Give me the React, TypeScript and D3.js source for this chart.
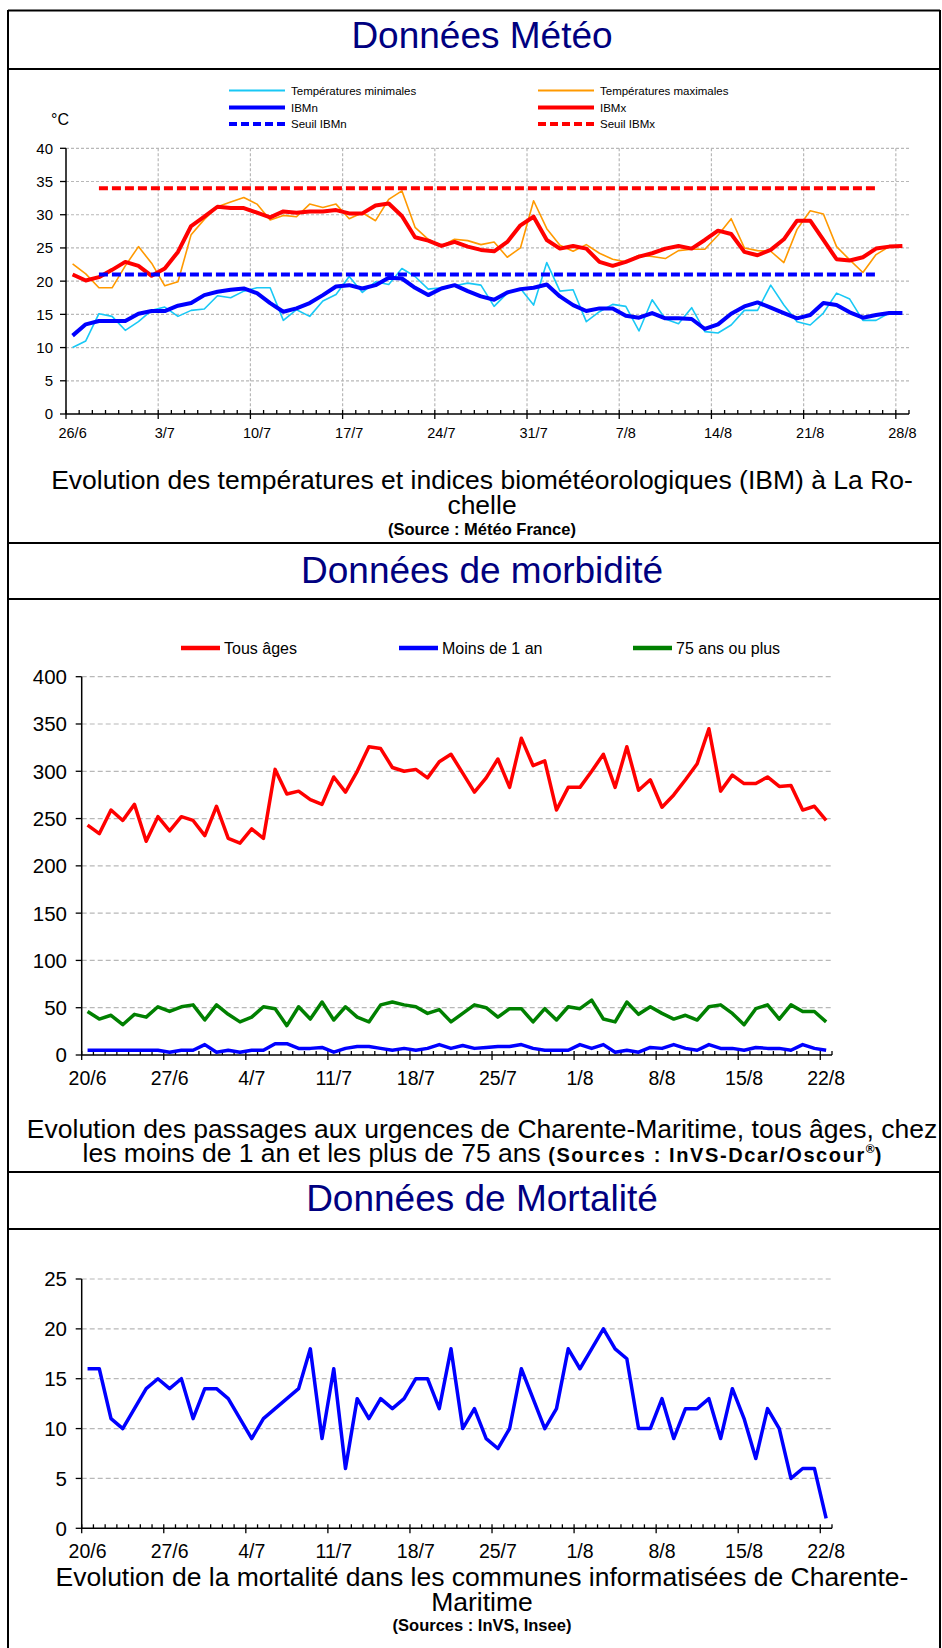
import * as d3 from "d3";

const FONT = "'Liberation Sans', Arial, Helvetica, sans-serif";
const NAVY = "#000080";
const GRID = "#b8b8b8";

// categories (one per day) and the labelled days
const fmtDay = d3.timeFormat("%-d/%-m");
const meteoDays = d3.timeDay.range(new Date(2006, 5, 26), new Date(2006, 7, 29)).map(fmtDay);
const santeDays = d3.timeDay.range(new Date(2006, 5, 20), new Date(2006, 7, 23)).map(fmtDay);
const meteoTicks = ["26/6", "3/7", "10/7", "17/7", "24/7", "31/7", "7/8", "14/8", "21/8", "28/8"];
const santeTicks = ["20/6", "27/6", "4/7", "11/7", "18/7", "25/7", "1/8", "8/8", "15/8", "22/8"];

// Données Météo (°C)
const tMin = [
  10.0, 11.0, 15.1, 14.7, 12.6, 13.9, 15.6, 16.1, 14.7, 15.6,
  15.8, 17.8, 17.5, 18.5, 19.0, 19.0, 14.1, 15.7, 14.7, 17.0,
  18.0, 20.7, 18.3, 19.9, 19.5, 21.9, 20.7, 18.8, 19.0, 19.3,
  19.7, 19.4, 16.2, 18.2, 18.9, 16.4, 22.8, 18.5, 18.7, 13.9,
  15.4, 16.5, 16.2, 12.5, 17.2, 14.3, 13.6, 16.0, 12.4, 12.2,
  13.4, 15.6, 15.6, 19.4, 16.4, 13.9, 13.4, 15.2, 18.2, 17.3,
  14.1, 14.1, 15.2,
];
const tMax = [
  22.6, 21.1, 19.0, 19.0, 22.3, 25.2, 22.7, 19.3, 19.9, 27.0,
  29.3, 31.2, 31.9, 32.6, 31.6, 29.2, 29.9, 29.7, 31.6, 31.1,
  31.6, 29.4, 30.3, 29.1, 32.3, 33.6, 28.1, 26.3, 25.3, 26.3,
  26.1, 25.5, 25.9, 23.6, 25.0, 32.1, 27.9, 25.4, 24.5, 25.5,
  24.2, 23.3, 22.9, 23.9, 23.7, 23.4, 24.6, 24.8, 24.8, 26.9,
  29.4, 25.0, 24.6, 24.5, 22.8, 27.8, 30.6, 30.1, 25.2, 23.2,
  21.3, 24.0, 25.2,
];
const ibmn = [
  11.8, 13.5, 14.0, 14.0, 14.0, 15.1, 15.5, 15.5, 16.3, 16.7,
  17.9, 18.4, 18.7, 18.9, 18.2, 16.7, 15.4, 15.9, 16.7, 17.9,
  19.2, 19.4, 18.9, 19.4, 20.5, 20.4, 19.0, 17.9, 18.9, 19.4,
  18.5, 17.7, 17.2, 18.3, 18.8, 19.0, 19.5, 17.7, 16.4, 15.5,
  15.9, 15.9, 14.8, 14.5, 15.2, 14.4, 14.4, 14.3, 12.8, 13.5,
  15.1, 16.2, 16.8, 16.0, 15.2, 14.4, 14.9, 16.7, 16.4, 15.3,
  14.5, 14.9, 15.2, 15.2,
];
const ibmx = [
  21.0, 20.1, 20.6, 21.7, 22.9, 22.3, 20.8, 21.9, 24.4, 28.3,
  29.7, 31.2, 31.0, 31.0, 30.3, 29.6, 30.5, 30.3, 30.5, 30.5,
  30.7, 30.2, 30.2, 31.4, 31.7, 29.8, 26.6, 26.1, 25.3, 25.9,
  25.2, 24.7, 24.5, 25.9, 28.4, 29.7, 26.2, 24.9, 25.3, 24.9,
  22.9, 22.3, 22.9, 23.7, 24.2, 24.9, 25.3, 24.9, 26.2, 27.6,
  27.1, 24.4, 23.9, 24.7, 26.3, 29.1, 29.1, 26.2, 23.3, 23.1,
  23.6, 24.9, 25.2, 25.3,
];
const seuilIBMn = 21;
const seuilIBMx = 34;
const seuilDays = ["28/6", "26/8"];

// Données de morbidité (passages aux urgences)
const tousAges = [
  243, 234, 259, 248, 265, 226, 252, 237, 252, 248,
  232, 263, 229, 224, 239, 229, 302, 276, 279, 270,
  265, 294, 278, 300, 326, 324, 304, 300, 302, 293,
  310, 318, 298, 278, 293, 313, 283, 335, 306, 311,
  259, 283, 283, 300, 318, 283, 326, 280, 291, 262,
  275, 291, 308, 345, 279, 296, 287, 287, 294, 284,
  285, 259, 263, 248,
];
const moinsUnAn = [
  5, 5, 5, 5, 5, 5, 5, 3, 5, 5,
  11, 3, 5, 3, 5, 5, 12, 12, 7, 7,
  8, 3, 7, 9, 9, 7, 5, 7, 5, 7,
  11, 7, 10, 7, 8, 9, 9, 11, 7, 5,
  5, 5, 11, 7, 11, 3, 5, 3, 8, 7,
  11, 7, 5, 11, 7, 7, 5, 8, 7, 7,
  5, 11, 7, 5,
];
const plus75 = [
  46, 38, 42, 32, 43, 40, 51, 46, 51, 53,
  37, 53, 43, 35, 40, 51, 49, 31, 51, 38,
  56, 37, 51, 40, 35, 53, 56, 53, 51, 44,
  48, 35, 44, 53, 50, 40, 49, 49, 35, 49,
  37, 51, 49, 58, 38, 35, 56, 43, 51, 44,
  38, 42, 37, 51, 53, 44, 32, 49, 53, 38,
  53, 46, 46, 35,
];

// Données de mortalité
const deces = [
  16, 16, 11, 10, 12, 14, 15, 14, 15, 11,
  14, 14, 13, 11, 9, 11, 12, 13, 14, 18,
  9, 16, 6, 13, 11, 13, 12, 13, 15, 15,
  12, 18, 10, 12, 9, 8, 10, 16, 13, 10,
  12, 18, 16, 18, 20, 18, 17, 10, 10, 13,
  9, 12, 12, 13, 9, 14, 11, 7, 12, 10,
  5, 6, 6, 1,
];

interface Serie {
  values: number[];
  color: string;
  width: number;
}
interface Seuil {
  value: number;
  color: string;
}

interface ChartProps {
  days: string[];
  ticks: string[];
  left: number;
  right: number;
  top: number;
  bottom: number;
  yMax: number;
  yStep: number;
  yFont: number;
  xFont: number;
  yLabelRight: number;
  xLabelBaseline: number;
  yTickLen: number;
  vGrid: boolean;
  dash: string;
  series: Serie[];
  seuils?: Seuil[];
}

function DayChart(p: ChartProps) {
  const x = d3.scaleBand<string>().domain(p.days).range([p.left, p.right]);
  const y = d3.scaleLinear().domain([0, p.yMax]).range([p.bottom, p.top]);
  const bw = x.bandwidth();
  const cx = (d: string) => (x(d) as number) + bw / 2;
  const yTicks = d3.range(0, p.yMax + p.yStep / 2, p.yStep);
  const line = d3
    .line<number>()
    .x((_, i) => cx(p.days[i]))
    .y((v) => y(v));
  const bounds = p.days.map((d, i) => ({ x: x(d) as number, major: i % 7 === 0 }));
  bounds.push({ x: p.right, major: false });

  return (
    <g fontFamily={FONT}>
      {yTicks
        .filter((v) => v > 0)
        .map((v) => (
          <line key={"h" + v} x1={p.left} x2={p.right} y1={y(v)} y2={y(v)}
            stroke={GRID} strokeWidth={1.2} strokeDasharray={p.dash} />
        ))}
      {p.vGrid &&
        p.ticks.slice(1).map((t) => (
          <line key={"v" + t} x1={x(t)} x2={x(t)} y1={p.top} y2={p.bottom}
            stroke={GRID} strokeWidth={1.2} strokeDasharray={p.dash} />
        ))}
      {/* y axis */}
      <line x1={p.left} x2={p.left} y1={p.top} y2={p.bottom} stroke="#000" strokeWidth={1.5} />
      {yTicks.map((v) => (
        <g key={"yt" + v}>
          <line x1={p.left - p.yTickLen} x2={p.left} y1={y(v)} y2={y(v)} stroke="#000" strokeWidth={1.3} />
          <text x={p.yLabelRight} y={y(v)} dy="0.36em" textAnchor="end" fontSize={p.yFont}>
            {v}
          </text>
        </g>
      ))}
      {/* x axis */}
      <line x1={p.left} x2={p.right} y1={p.bottom} y2={p.bottom} stroke="#000" strokeWidth={1.5} />
      {bounds.map((b, i) => (
        <line key={"xt" + i} x1={b.x} x2={b.x} y1={p.bottom - 4} y2={b.major ? p.bottom + 5 : p.bottom}
          stroke="#000" strokeWidth={1.3} />
      ))}
      {p.ticks.map((t) => (
        <text key={"xl" + t} x={cx(t)} y={p.xLabelBaseline} textAnchor="middle" fontSize={p.xFont}>
          {t}
        </text>
      ))}
      {p.series.map((s, i) => (
        <path key={"s" + i} d={line(s.values) ?? ""} fill="none" stroke={s.color}
          strokeWidth={s.width} strokeLinejoin="round" />
      ))}
      {(p.seuils ?? []).map((s, i) => (
        <line key={"th" + i} x1={cx(seuilDays[0])} x2={cx(seuilDays[1])} y1={y(s.value)} y2={y(s.value)}
          stroke={s.color} strokeWidth={4} strokeDasharray="9,4" />
      ))}
    </g>
  );
}

const meteoLegend = [
  { label: "Températures minimales", color: "#19c8f5", width: 2, dash: "", col: 0, row: 0 },
  { label: "Températures maximales", color: "#ff9900", width: 2, dash: "", col: 1, row: 0 },
  { label: "IBMn", color: "#0000ff", width: 4, dash: "", col: 0, row: 1 },
  { label: "IBMx", color: "#ff0000", width: 4, dash: "", col: 1, row: 1 },
  { label: "Seuil IBMn", color: "#0000ff", width: 4, dash: "8,4", col: 0, row: 2 },
  { label: "Seuil IBMx", color: "#ff0000", width: 4, dash: "8,4", col: 1, row: 2 },
];
const santeLegend = [
  { label: "Tous âges", color: "#ff0000", x: 181 },
  { label: "Moins de 1 an", color: "#0000ff", x: 399 },
  { label: "75 ans ou plus", color: "#008000", x: 633 },
];

const CX = 482;

export default function App() {
  const legCols = [229, 538];
  const legRows = [90.5, 107.5, 124];
  return (
    <div style={{ position: "absolute", left: 0, top: 0 }}>
      <svg width={942} height={1648} style={{ display: "block", background: "#fff" }} fontFamily={FONT}>
        {/* frame */}
        <g stroke="#000" strokeWidth={2}>
          <line x1={8} x2={8} y1={10} y2={1648} />
          <line x1={940} x2={940} y1={10} y2={1648} />
          <line x1={8} x2={940} y1={10.5} y2={10.5} />
          {[69, 543, 599, 1172, 1229].map((yy) => (
            <line key={yy} x1={8} x2={940} y1={yy} y2={yy} />
          ))}
        </g>

        {/* Données Météo */}
        <text x={CX} y={48} textAnchor="middle" fontSize={37} fill={NAVY}>Données Météo</text>
        {meteoLegend.map((l) => (
          <g key={l.label}>
            <line x1={legCols[l.col]} x2={legCols[l.col] + 56} y1={legRows[l.row]} y2={legRows[l.row]}
              stroke={l.color} strokeWidth={l.width} strokeDasharray={l.dash} />
            <text x={legCols[l.col] + 62} y={legRows[l.row] + 4} fontSize={11.5}>{l.label}</text>
          </g>
        ))}
        <text x={51} y={125} fontSize={16}>°C</text>
        <DayChart
          days={meteoDays} ticks={meteoTicks}
          left={66} right={909} top={148.3} bottom={414}
          yMax={40} yStep={5} yFont={15} xFont={14.5}
          yLabelRight={53} xLabelBaseline={438} yTickLen={6}
          vGrid={true} dash="3,2"
          series={[
            { values: tMin, color: "#19c8f5", width: 1.6 },
            { values: tMax, color: "#ff9900", width: 1.6 },
            { values: ibmn, color: "#0000ff", width: 4 },
            { values: ibmx, color: "#ff0000", width: 4 },
          ]}
          seuils={[
            { value: seuilIBMn, color: "#0000ff" },
            { value: seuilIBMx, color: "#ff0000" },
          ]}
        />
        <g textAnchor="middle">
          <text x={CX} y={489} fontSize={26.5}>Evolution des températures et indices biométéorologiques (IBM) à La Ro-</text>
          <text x={CX} y={514} fontSize={26.5}>chelle</text>
          <text x={CX} y={535} fontSize={16.5} fontWeight="bold">(Source : Météo France)</text>
        </g>

        {/* Données de morbidité */}
        <text x={CX} y={583} textAnchor="middle" fontSize={37} fill={NAVY}>Données de morbidité</text>
        {santeLegend.map((l) => (
          <g key={l.label}>
            <line x1={l.x} x2={l.x + 39} y1={648} y2={648} stroke={l.color} strokeWidth={4.5} />
            <text x={l.x + 43} y={653.5} fontSize={16}>{l.label}</text>
          </g>
        ))}
        <DayChart
          days={santeDays} ticks={santeTicks}
          left={81.7} right={832} top={676.7} bottom={1055}
          yMax={400} yStep={50} yFont={20.5} xFont={19.5}
          yLabelRight={67} xLabelBaseline={1085} yTickLen={6}
          vGrid={false} dash="5,3"
          series={[
            { values: tousAges, color: "#ff0000", width: 3.5 },
            { values: moinsUnAn, color: "#0000ff", width: 3.5 },
            { values: plus75, color: "#008000", width: 3.5 },
          ]}
        />
        <g textAnchor="middle">
          <text x={CX} y={1138} fontSize={26.5}>Evolution des passages aux urgences de Charente-Maritime, tous âges, chez</text>
          <text x={CX} y={1162} fontSize={26.5}>
            <tspan>les moins de 1 an et les plus de 75 ans </tspan>
            <tspan fontSize={20} fontWeight="bold" letterSpacing={1.6}>(Sources : InVS-Dcar/Oscour</tspan>
            <tspan fontSize={12} fontWeight="bold" dy={-9}>®</tspan>
            <tspan fontSize={20} fontWeight="bold" dy={9}>)</tspan>
          </text>
        </g>

        {/* Données de Mortalité */}
        <text x={CX} y={1211} textAnchor="middle" fontSize={37} fill={NAVY}>Données de Mortalité</text>
        <DayChart
          days={santeDays} ticks={santeTicks}
          left={81.7} right={832} top={1279} bottom={1528.3}
          yMax={25} yStep={5} yFont={20.5} xFont={19.5}
          yLabelRight={67} xLabelBaseline={1558} yTickLen={6}
          vGrid={false} dash="5,3"
          series={[{ values: deces, color: "#0000ff", width: 3.5 }]}
        />
        <g textAnchor="middle">
          <text x={CX} y={1586} fontSize={26.5}>Evolution de la mortalité dans les communes informatisées de Charente-</text>
          <text x={CX} y={1611} fontSize={26.5}>Maritime</text>
          <text x={CX} y={1631} fontSize={16.5} fontWeight="bold">(Sources : InVS, Insee)</text>
        </g>
      </svg>
    </div>
  );
}
